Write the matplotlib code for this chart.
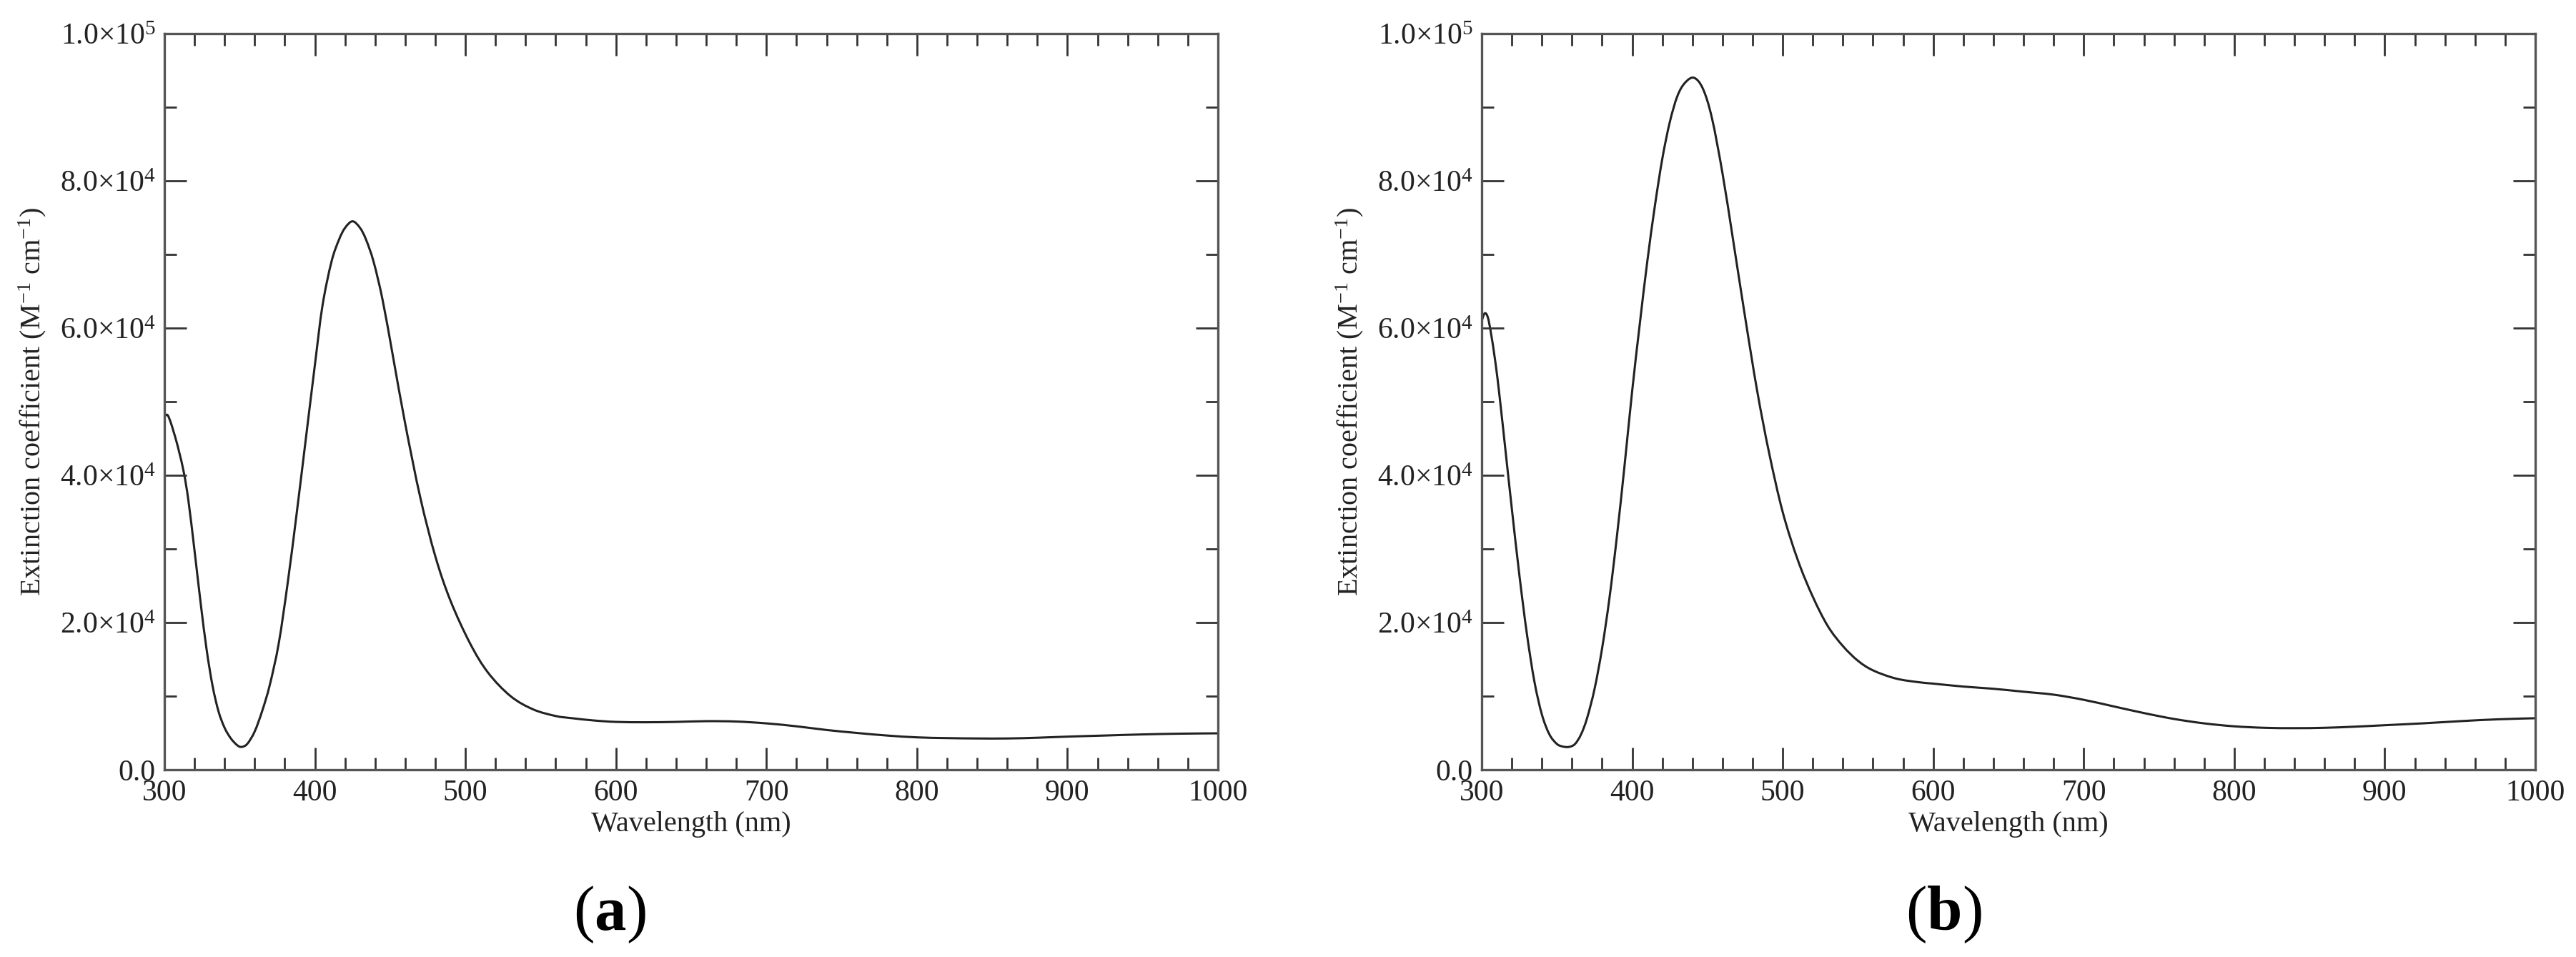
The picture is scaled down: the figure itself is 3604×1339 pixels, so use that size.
import matplotlib
matplotlib.use("Agg")
import matplotlib.pyplot as plt
from matplotlib.path import Path
from matplotlib.patches import PathPatch
from matplotlib.ticker import MultipleLocator, FuncFormatter

plt.rcParams['font.family'] = ['Liberation Serif', 'DejaVu Serif']
plt.rcParams['mathtext.fontset'] = 'custom'
plt.rcParams['mathtext.rm'] = 'Liberation Serif'
plt.rcParams['mathtext.it'] = 'Liberation Serif:italic'
plt.rcParams['mathtext.bf'] = 'Liberation Serif:bold'

# panel (a)
wl_a = [300, 302, 304, 306, 308, 310, 313, 316, 320, 324,
        328, 332, 336, 340, 344, 348, 351, 355, 360, 365,
        370, 376, 382, 388, 394, 400, 405, 411, 416, 420,
        425, 430, 434, 439, 445, 452, 460, 470, 480, 490,
        503, 515, 530, 545, 560, 571, 585, 600, 620, 640,
        660, 680, 700, 720, 740, 760, 780, 800, 820, 840,
        860, 880, 900, 925, 950, 975, 1000]
eps_a = [48000, 48200, 47300, 46000, 44600, 43000, 40300, 36500, 29800, 22800,
         16400, 11400, 7900, 5700, 4300, 3400, 3100, 3500, 5200, 8000,
         11500, 17200, 25500, 35000, 45000, 55000, 63000, 69000, 72000, 73600,
         74500, 73600, 72000, 69000, 63800, 56000, 47000, 37000, 29000, 23000,
         17200, 13200, 10000, 8200, 7300, 7000, 6700, 6500, 6450, 6500,
         6600, 6550, 6300, 5900, 5400, 5000, 4650, 4400, 4300, 4250,
         4250, 4350, 4500, 4650, 4800, 4900, 4950]

# panel (b)
wl_b = [300, 302, 304, 306, 309, 312, 316, 320, 325, 330,
        335, 340, 345, 350, 354, 358, 362, 366, 370, 375,
        380, 385, 390, 395, 400, 405, 410, 415, 420, 425,
        430, 435, 441, 447, 453, 460, 467, 475, 483, 491,
        500, 510, 520, 530, 540, 550, 560, 575, 590, 600,
        620, 640, 660, 680, 700, 720, 740, 760, 780, 800,
        820, 840, 860, 880, 900, 925, 950, 975, 1000]
eps_b = [61000, 62000, 61500, 59500, 55500, 50500, 43000, 35500, 26500, 18500,
         12000, 7500, 4800, 3500, 3150, 3100, 3500, 4800, 7000, 11000,
         16500, 23500, 32000, 41500, 51500, 60500, 69000, 76500, 83000, 88000,
         91500, 93300, 94000, 92500, 88500, 81000, 72000, 61500, 51500, 43000,
         35000, 28500, 23500, 19500, 16800, 14800, 13500, 12400, 11900, 11700,
         11300, 11000, 10600, 10200, 9500, 8600, 7700, 6900, 6300, 5900,
         5700, 5650, 5700, 5850, 6050, 6300, 6600, 6850, 7000]

panels = [(wl_a, eps_a, 'a'), (wl_b, eps_b, 'b')]
ax_left = [230, 2073]
label_x = [853, 2719]
W, H = 3604, 1339
dpi = 200


def sci(v, pos):
    if v == 0:
        return '0.0'
    e = len(str(int(v))) - 1
    m = v / 10 ** e
    return r'${:.1f}{{\times}}10^{{{}}}$'.format(m, e)


def smooth_path(x, y):
    # cubic bezier through the read points (catmull-rom tangents)
    n = len(x)
    verts = [(x[0], y[0])]
    codes = [Path.MOVETO]
    for i in range(n - 1):
        i0, i3 = max(i - 1, 0), min(i + 2, n - 1)
        c1 = (x[i] + (x[i + 1] - x[i0]) / 6, y[i] + (y[i + 1] - y[i0]) / 6)
        c2 = (x[i + 1] - (x[i3] - x[i]) / 6, y[i + 1] - (y[i3] - y[i]) / 6)
        verts += [c1, c2, (x[i + 1], y[i + 1])]
        codes += [Path.CURVE4] * 3
    return Path(verts, codes)


fig = plt.figure(figsize=(W / dpi, H / dpi), dpi=dpi)
spine_c = '#555555'
for k, (x, y, tag) in enumerate(panels):
    ax = fig.add_axes([ax_left[k] / W, 1 - 1077 / H, 1474 / W, 1030 / H])
    ax.add_patch(PathPatch(smooth_path(x, y), fill=False, edgecolor='#222222', lw=1.1))
    ax.set_xlim(300, 1000)
    ax.set_ylim(0, 100000)
    ax.xaxis.set_major_locator(MultipleLocator(100))
    ax.xaxis.set_minor_locator(MultipleLocator(20))
    ax.yaxis.set_major_locator(MultipleLocator(20000))
    ax.yaxis.set_minor_locator(MultipleLocator(10000))
    ax.yaxis.set_major_formatter(FuncFormatter(sci))
    ax.tick_params(which='both', direction='in', top=True, right=True,
                   color='#333333', labelcolor='#222222', labelsize=15)
    ax.tick_params(which='major', length=11, width=1.0)
    ax.tick_params(which='minor', length=6, width=1.0)
    ax.tick_params(axis='x', pad=5)
    ax.tick_params(axis='y', pad=4.5)
    for s in ax.spines.values():
        s.set_color(spine_c)
        s.set_linewidth(1.2)
    ax.set_xlabel('Wavelength (nm)', fontsize=14.5, color='#222222', labelpad=2)
    ax.set_ylabel(r'Extinction coefficient (M$^{-1}$ cm$^{-1}$)', fontsize=14.5,
                  color='#222222', labelpad=6)
    fig.text(label_x[k] / W, 1 - 1280 / H, r'($\mathbf{' + tag + r'}$)',
             fontsize=32, ha='center', va='center', color='black')

fig.savefig('out.png', dpi=dpi)
